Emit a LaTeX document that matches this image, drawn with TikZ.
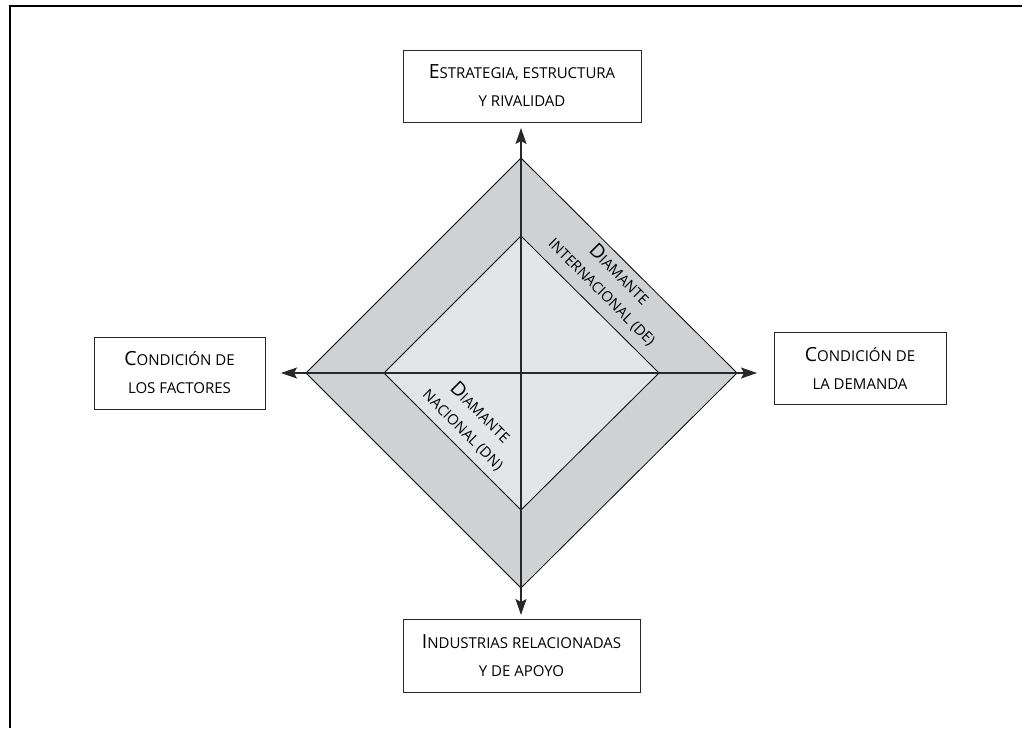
\documentclass[tikz,border=0pt]{standalone}
\usepackage{fontspec}
\setmainfont{Open Sans}
\usetikzlibrary{arrows.meta}
\definecolor{bandgray}{RGB}{208,209,211}
\definecolor{innergray}{RGB}{228,229,231}
\definecolor{linegray}{RGB}{40,40,40}
\newcommand\bigL[1]{{\fontsize{19.5}{28}\selectfont #1}}
\tikzset{
  factorbox/.style={draw=linegray, line width=0.9pt, fill=white, align=center, inner sep=0pt,
    font=\fontsize{15}{28}\selectfont},
  axis/.style={draw=linegray, line width=1.3pt, -{Stealth[length=16pt,width=11pt,inset=3pt]}},
  edge/.style={draw=black, line width=0.8pt},
  difont/.style={font=\fontsize{14.6}{24}\selectfont, align=center, inner sep=0pt}
}
\begin{document}
\begin{tikzpicture}[x=1pt,y=-1pt]
\useasboundingbox (0,0) rectangle (1022,728);
\draw[line width=1.4pt] (10,728) -- (10,6) -- (1022,6);
% diamonds
\coordinate (c) at (521,373);
\coordinate (ot) at (521,158);
\coordinate (or) at (737,373);
\coordinate (ob) at (521,588);
\coordinate (ol) at (306,373);
\coordinate (it) at (521,236);
\coordinate (ir) at (659,373);
\coordinate (ib) at (521,510);
\coordinate (il) at (384,373);
\filldraw[edge, fill=bandgray] (ot) -- (or) -- (ob) -- (ol) -- cycle;
\filldraw[edge, fill=innergray] (it) -- (ir) -- (ib) -- (il) -- cycle;
% boxes
\node[factorbox, minimum width=238pt, minimum height=72pt] (top) at (522,86)
  {\bigL{E}STRATEGIA, ESTRUCTURA\\Y RIVALIDAD};
\node[factorbox, minimum width=171pt, minimum height=72pt] (left) at (179.5,373)
  {\bigL{C}ONDICIÓN DE\\LOS FACTORES};
\node[factorbox, minimum width=172pt, minimum height=72pt] (right) at (860,368)
  {\bigL{C}ONDICIÓN DE\\LA DEMANDA};
\node[factorbox, minimum width=237pt, minimum height=73pt] (bottom) at (521.5,655.5)
  {\bigL{I}NDUSTRIAS RELACIONADAS\\Y DE APOYO};
% arrow tips
\coordinate (tt) at (521,128);
\coordinate (tr) at (757,373);
\coordinate (tb) at (521,615);
\coordinate (tl) at (281,373);
\draw[axis] (c) -- (tt);
\draw[axis] (c) -- (tb);
\draw[axis] (c) -- (tl);
\draw[axis] (c) -- (tr);
% labels
\node[difont, rotate=-45] (de) at (611,283) {\bigL{D}IAMANTE\\INTERNACIONAL (DE)};
\node[difont, rotate=-45] (dn) at (472,421) {\bigL{D}IAMANTE\\NACIONAL (DN)};
\end{tikzpicture}
\end{document}
